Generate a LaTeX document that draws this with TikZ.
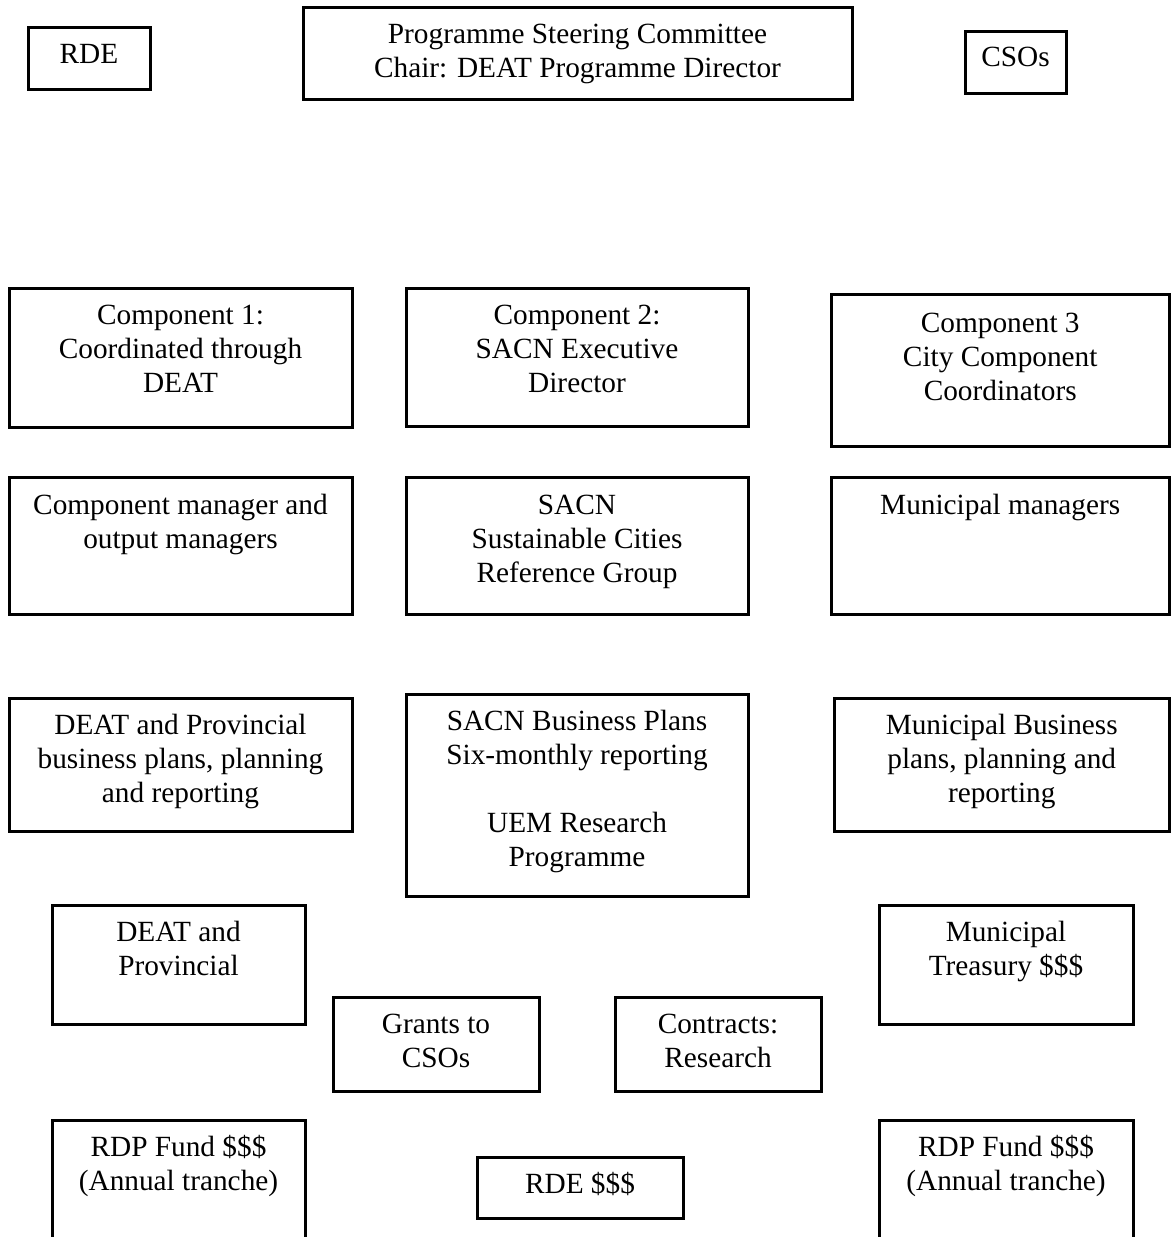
\documentclass[tikz,border=0pt]{standalone}
\usepackage{fontspec}
\setmainfont{Liberation Serif}
\usetikzlibrary{fit}
\tikzset{
  box/.style={draw, line width=3pt, inner sep=0pt},
  lbl/.style={font=\fontsize{29.3}{34}\selectfont, text width=440pt, align=flush center, anchor=base, inner sep=0pt},
}
% name, x1, y1, x2, y2, baseline offset, text
\newcommand\orgbox[7]{%
  \node[box, fit={(#2,#3) (#4,#5)}] (#1) {};
  \node[lbl] (#1-t) at ([yshift=-#6pt]#1.north) {#7};
}
\begin{document}
\begin{tikzpicture}[x=1pt, y=-1pt]
  \clip (0,0) rectangle (1171,1237);
  \fill[white] (0,0) rectangle (1171,1237);
  \orgbox{rde}{28}{27}{150}{89}{38}{RDE}
  \orgbox{psc}{303}{7}{852}{99}{38}{Programme Steering Committee\\Chair: DEAT Programme Director}
  \orgbox{csos}{965}{31}{1066}{93}{37}{CSOs}
  \orgbox{c1}{9}{288}{352}{427}{38}{Component 1:\\Coordinated through\\DEAT}
  \orgbox{c2}{406}{288}{748}{426}{38}{Component 2:\\SACN Executive\\Director}
  \orgbox{c3}{831}{294}{1169.5}{446}{40}{Component 3\\City Component\\Coordinators}
  \orgbox{cm}{9}{477}{352}{614}{39}{Component manager and\\output managers}
  \orgbox{scrg}{406}{477}{748}{614}{39}{SACN\\Sustainable Cities\\Reference Group}
  \orgbox{mm}{831}{477}{1169.5}{614}{39}{Municipal managers}
  \orgbox{dbp}{9}{698}{352}{831}{38}{DEAT and Provincial\\business plans, planning\\and reporting}
  \orgbox{sbp}{406}{694}{748}{896}{38}{SACN Business Plans\\Six-monthly reporting\\~\\UEM Research\\Programme}
  \orgbox{mbp}{834}{698}{1169.5}{831}{38}{Municipal Business\\plans, planning and\\reporting}
  \orgbox{dp}{52}{905}{305}{1024}{38}{DEAT and\\Provincial}
  \orgbox{grants}{333}{997}{539}{1091}{38}{Grants to\\CSOs}
  \orgbox{contracts}{615}{997}{821}{1091}{38}{Contracts:\\Research}
  \orgbox{mt}{879}{905}{1133}{1024}{38}{Municipal\\Treasury \$\$\$}
  \orgbox{rdpl}{52}{1120}{305}{1250}{38}{RDP Fund \$\$\$\\(Annual tranche)}
  \orgbox{rdes}{477}{1157}{683}{1218}{38}{RDE \$\$\$}
  \orgbox{rdpr}{879}{1120}{1133}{1250}{38}{RDP Fund \$\$\$\\(Annual tranche)}
\end{tikzpicture}
\end{document}
